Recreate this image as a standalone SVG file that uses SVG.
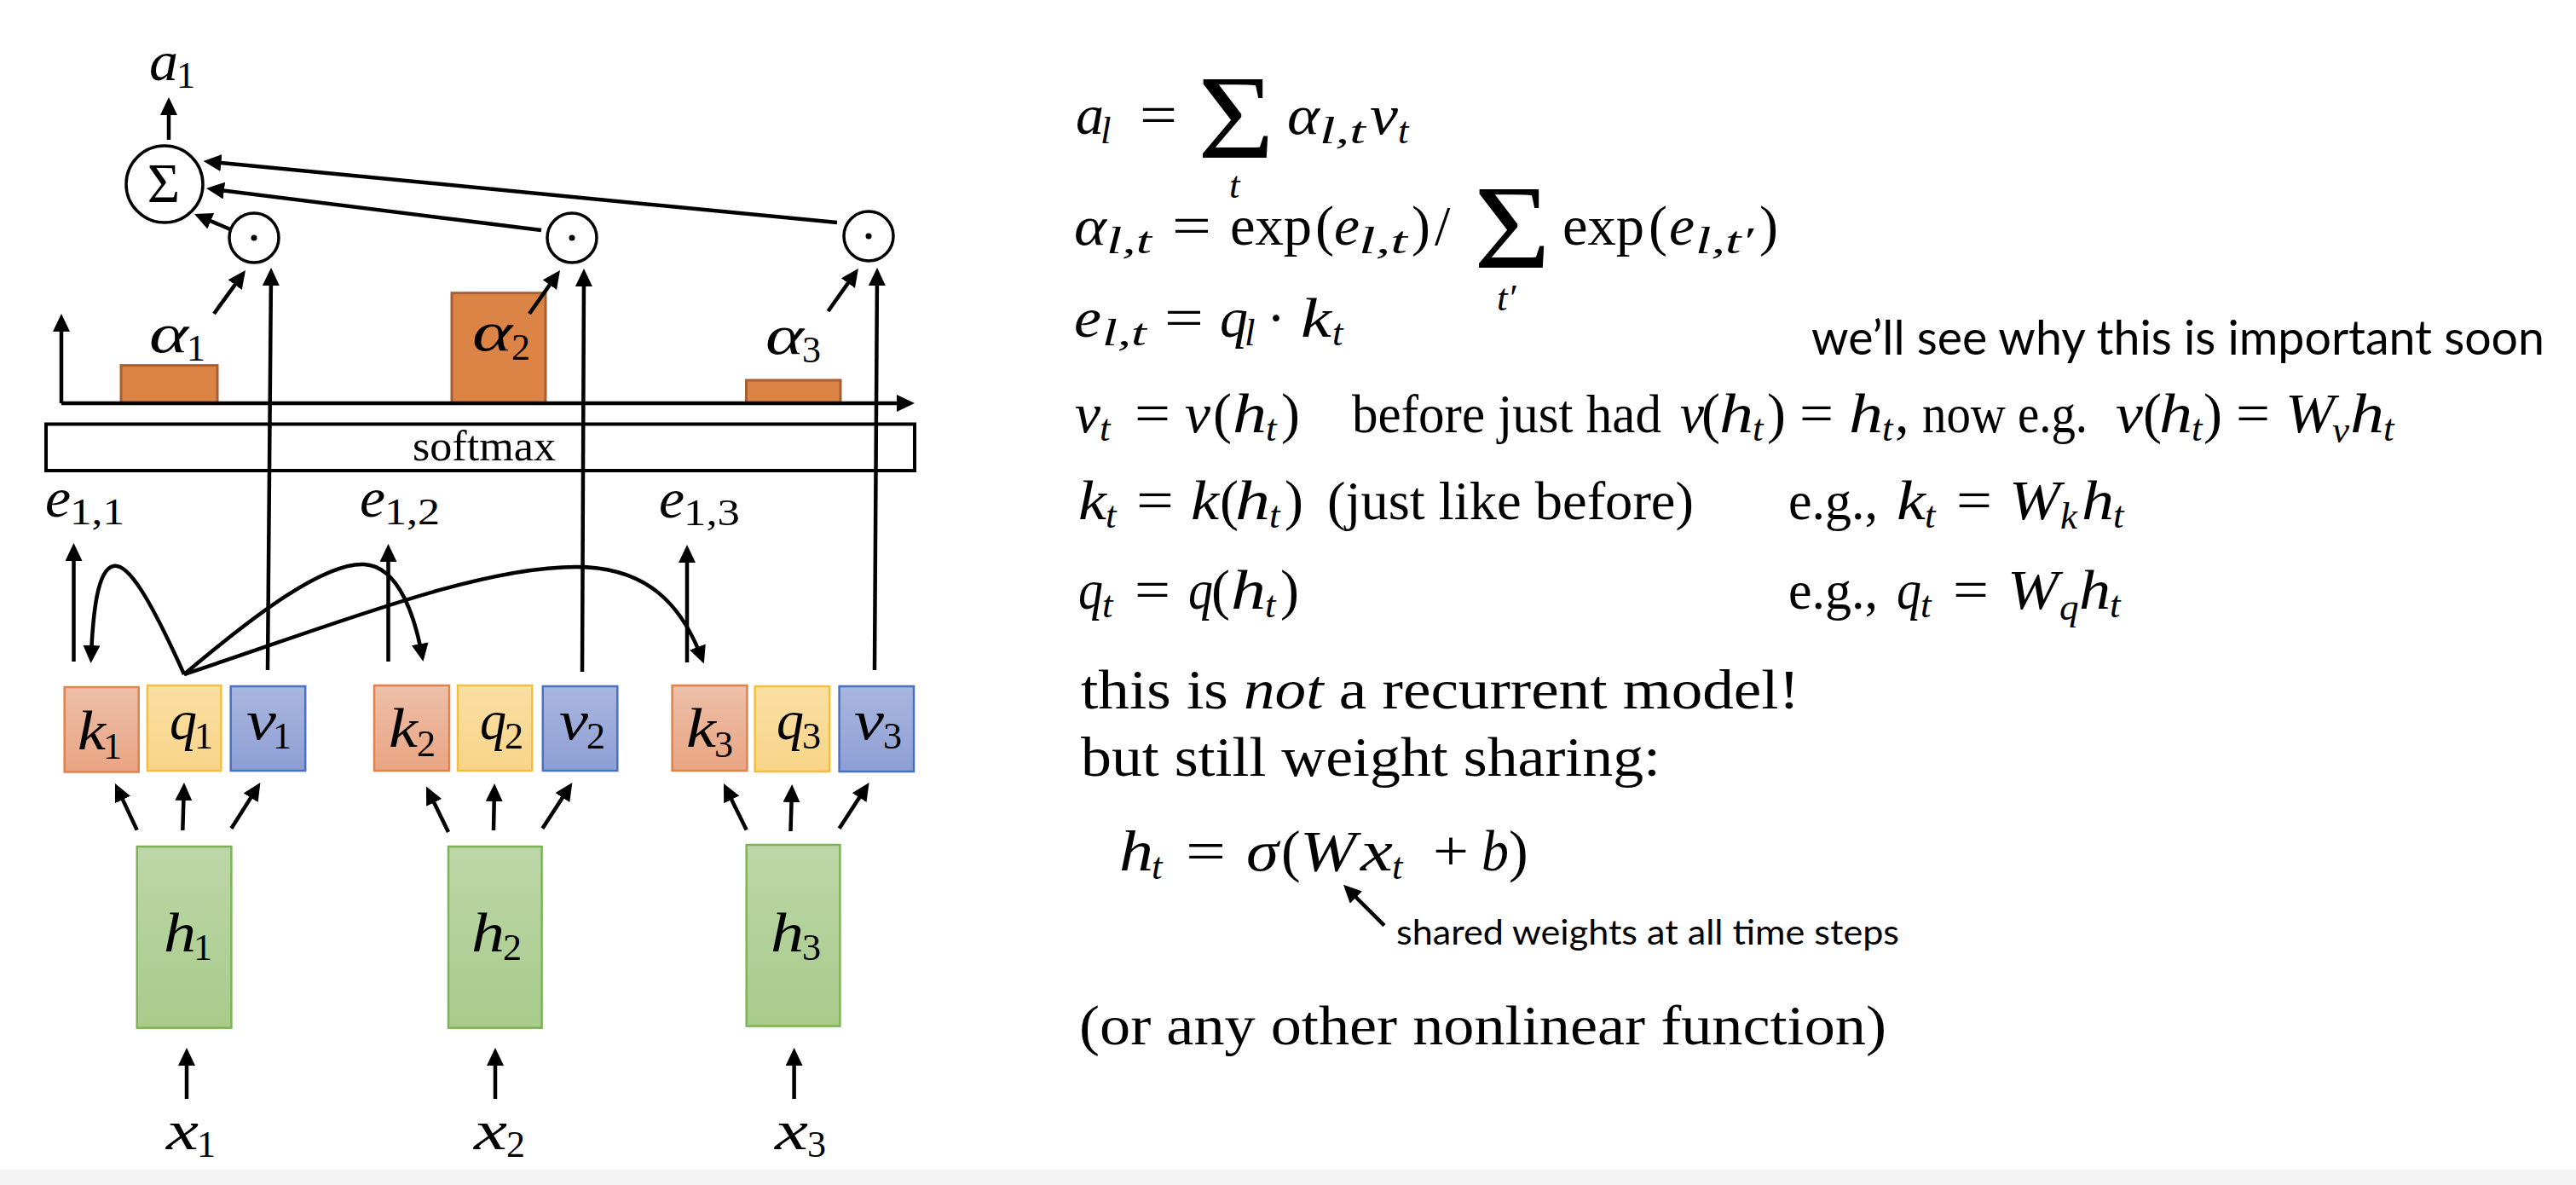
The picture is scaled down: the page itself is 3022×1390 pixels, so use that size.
<svg xmlns="http://www.w3.org/2000/svg" width="3022" height="1390" viewBox="0 0 3022 1390">
<style>
text{fill:#000}
.mm{font-family:"Liberation Serif","DejaVu Serif",serif;font-style:italic;font-size:66px}
.ms{font-family:"Liberation Serif","DejaVu Serif",serif;font-style:italic;font-size:45px}
.rm{font-family:"Liberation Serif","DejaVu Serif",serif;font-size:66px}
.rt{font-family:"Liberation Serif","DejaVu Serif",serif;font-size:64px}
.rbig{font-family:"Liberation Serif","DejaVu Serif",serif;font-size:140px}
.hm{font-family:"Liberation Serif","DejaVu Serif",serif;font-style:italic;font-size:68px}
.hr{font-family:"Liberation Serif","DejaVu Serif",serif;font-size:68px}
.lm{font-family:"Liberation Serif","DejaVu Serif",serif;font-style:italic;font-size:66px}
.ls{font-family:"Liberation Serif","DejaVu Serif",serif;font-size:44px}
.sm{font-family:"Liberation Serif","DejaVu Serif",serif;font-size:50px}
.cal{font-family:Lato,"Open Sans",sans-serif}
.ar{stroke:#000;stroke-width:4.5;fill:none;marker-end:url(#ah)}
.ring{fill:#fff;stroke:#000;stroke-width:3.5}
.bar{fill:#DC8445;stroke:#A65F33;stroke-width:3}
.kb{fill:url(#gk);stroke:#E0824A;stroke-width:2.5}
.qb{fill:url(#gq);stroke:#F3C03E;stroke-width:2.5}
.vb{fill:url(#gv);stroke:#4A70C2;stroke-width:2.5}
.hb{fill:url(#gh);stroke:#7DB356;stroke-width:2.5}
</style>
<defs>
<marker id="ah" markerUnits="userSpaceOnUse" markerWidth="24" markerHeight="22" refX="15" refY="10" orient="auto" viewBox="0 0 24 22"><path d="M0,0 L21,10 L0,20 z" fill="#000"/></marker>
<linearGradient id="gk" x1="0" y1="0" x2="0" y2="1"><stop offset="0" stop-color="#EDBFA9"/><stop offset="1" stop-color="#E9A582"/></linearGradient>
<linearGradient id="gq" x1="0" y1="0" x2="0" y2="1"><stop offset="0" stop-color="#FADFA4"/><stop offset="1" stop-color="#F7D488"/></linearGradient>
<linearGradient id="gv" x1="0" y1="0" x2="0" y2="1"><stop offset="0" stop-color="#A9B7DE"/><stop offset="1" stop-color="#8D9ED4"/></linearGradient>
<linearGradient id="gh" x1="0" y1="0" x2="0" y2="1"><stop offset="0" stop-color="#BDD7A8"/><stop offset="1" stop-color="#A8CB8B"/></linearGradient>
</defs>
<rect x="0" y="0" width="3022" height="1390" fill="#fff"/>
<rect x="0" y="1372" width="3022" height="18" fill="#F4F4F4"/>

<g id="node-a1">
<text class="lm" x="175" y="94" textLength="34" lengthAdjust="spacingAndGlyphs">a</text><text class="ls" x="207" y="103">1</text>
</g>
<g id="node-sum">
<circle class="ring" cx="193" cy="216" r="45"/>
<text class="rm" x="192" y="237" text-anchor="middle">Σ</text>
</g>
<g id="node-dot1"><circle class="ring" cx="298" cy="279" r="29"/><circle cx="298" cy="279" r="3.5"/></g>
<g id="node-dot2"><circle class="ring" cx="671" cy="279" r="29"/><circle cx="671" cy="279" r="3.5"/></g>
<g id="node-dot3"><circle class="ring" cx="1019" cy="277" r="29"/><circle cx="1019" cy="277" r="3.5"/></g>

<g id="node-chart">
<rect class="bar" x="142" y="428.6" width="113" height="44.4"/>
<rect class="bar" x="530" y="343.7" width="110" height="129.3"/>
<rect class="bar" x="875.5" y="446" width="110.5" height="27"/>
<text class="lm" x="175" y="413" font-size="62" textLength="46" lengthAdjust="spacingAndGlyphs">α</text><text class="ls" x="219" y="423">1</text>
<text class="lm" x="554" y="411" font-size="62" textLength="47" lengthAdjust="spacingAndGlyphs">α</text><text class="ls" x="600" y="422">2</text>
<text class="lm" x="898" y="415" font-size="62" textLength="45" lengthAdjust="spacingAndGlyphs">α</text><text class="ls" x="941" y="425">3</text>
</g>
<g id="node-softmax">
<rect x="54" y="497.5" width="1019" height="54.5" fill="none" stroke="#000" stroke-width="4"/>
<text class="sm" x="484" y="540" textLength="168" lengthAdjust="spacingAndGlyphs">softmax</text>
</g>
<g id="node-e11"><text class="lm" x="53" y="606" font-size="60" textLength="30" lengthAdjust="spacingAndGlyphs">e</text><text class="ls" x="82" y="615" textLength="64" lengthAdjust="spacingAndGlyphs">1,1</text></g>
<g id="node-e12"><text class="lm" x="422" y="606" font-size="60" textLength="30" lengthAdjust="spacingAndGlyphs">e</text><text class="ls" x="451" y="615" textLength="65" lengthAdjust="spacingAndGlyphs">1,2</text></g>
<g id="node-e13"><text class="lm" x="773" y="607" font-size="60" textLength="30" lengthAdjust="spacingAndGlyphs">e</text><text class="ls" x="802" y="616" textLength="66" lengthAdjust="spacingAndGlyphs">1,3</text></g>

<g id="node-k1"><rect class="kb" x="75.7" y="806" width="87" height="99.5"/><text class="lm" x="91" y="879" textLength="33" lengthAdjust="spacingAndGlyphs">k</text><text class="ls" x="121" y="890">1</text></g>
<g id="node-q1"><rect class="qb" x="172.9" y="804" width="86.4" height="100"/><text class="lm" x="199" y="867" textLength="32" lengthAdjust="spacingAndGlyphs">q</text><text class="ls" x="228" y="878">1</text></g>
<g id="node-v1"><rect class="vb" x="270.7" y="805" width="87.5" height="99"/><text class="lm" x="289" y="867" textLength="35" lengthAdjust="spacingAndGlyphs">v</text><text class="ls" x="320" y="878">1</text></g>
<g id="node-k2"><rect class="kb" x="439" y="804" width="88" height="100"/><text class="lm" x="456" y="876" textLength="34" lengthAdjust="spacingAndGlyphs">k</text><text class="ls" x="489" y="887">2</text></g>
<g id="node-q2"><rect class="qb" x="537" y="804" width="87.3" height="100"/><text class="lm" x="563" y="867" textLength="31" lengthAdjust="spacingAndGlyphs">q</text><text class="ls" x="592" y="878">2</text></g>
<g id="node-v2"><rect class="vb" x="636.8" y="805" width="87.5" height="99"/><text class="lm" x="656" y="867" textLength="34" lengthAdjust="spacingAndGlyphs">v</text><text class="ls" x="688" y="878">2</text></g>
<g id="node-k3"><rect class="kb" x="788.6" y="804" width="87.8" height="100"/><text class="lm" x="805" y="876" textLength="35" lengthAdjust="spacingAndGlyphs">k</text><text class="ls" x="838" y="888">3</text></g>
<g id="node-q3"><rect class="qb" x="885.7" y="805" width="87.5" height="100"/><text class="lm" x="911" y="867" textLength="32" lengthAdjust="spacingAndGlyphs">q</text><text class="ls" x="941" y="878">3</text></g>
<g id="node-v3"><rect class="vb" x="984.6" y="805" width="87.4" height="100"/><text class="lm" x="1002" y="867" textLength="35" lengthAdjust="spacingAndGlyphs">v</text><text class="ls" x="1036" y="878">3</text></g>

<g id="node-h1"><rect class="hb" x="160.7" y="993" width="110.7" height="212.7"/><text class="lm" x="192" y="1116" textLength="38" lengthAdjust="spacingAndGlyphs">h</text><text class="ls" x="227" y="1126">1</text></g>
<g id="node-h2"><rect class="hb" x="526" y="993" width="109.6" height="212.7"/><text class="lm" x="553" y="1116" textLength="39" lengthAdjust="spacingAndGlyphs">h</text><text class="ls" x="590" y="1126">2</text></g>
<g id="node-h3"><rect class="hb" x="875.7" y="991" width="109.7" height="212.6"/><text class="lm" x="904" y="1116" textLength="39" lengthAdjust="spacingAndGlyphs">h</text><text class="ls" x="941" y="1126">3</text></g>

<g id="node-x1"><text class="lm" x="195" y="1348" textLength="38" lengthAdjust="spacingAndGlyphs">x</text><text class="ls" x="231" y="1357">1</text></g>
<g id="node-x2"><text class="lm" x="556" y="1348" textLength="39" lengthAdjust="spacingAndGlyphs">x</text><text class="ls" x="594" y="1357">2</text></g>
<g id="node-x3"><text class="lm" x="909" y="1348" textLength="39" lengthAdjust="spacingAndGlyphs">x</text><text class="ls" x="947" y="1357">3</text></g>

<g id="connectors">
<path class="ar" d="M198,164 L198,120"/>
<path class="ar" d="M270,269 L233.5,253.4"/>
<path class="ar" d="M635,270 L248,221.7"/>
<path class="ar" d="M982,261 L244.5,189.6"/>
<path class="ar" d="M251,368 L284.5,321.9"/>
<path class="ar" d="M621,368 L653.5,321.9"/>
<path class="ar" d="M971.5,365 L1003.5,319.9"/>
<path class="ar" d="M72,473 L72,374"/>
<path class="ar" d="M72,473 L1067,473"/>
<path class="ar" d="M314,786 L318,320"/>
<path class="ar" d="M683,788 L685,321"/>
<path class="ar" d="M1026,786 L1029,320"/>
<path class="ar" d="M86.5,776 L86.5,643"/>
<path class="ar" d="M455.5,776 L455.5,644"/>
<path class="ar" d="M806,777 L806,645"/>
<path class="ar" d="M216,791 C175,700 150,660 133,664 C114,668 109,720 106.8,772"/>
<path class="ar" d="M216,791 C300,720 380,660 427,662 C470,664 488,730 495.4,770"/>
<path class="ar" d="M216,791 C400,730 560,665 676,665 C760,665 800,710 823.7,773"/>
<path class="ar" d="M160.7,973.6 L137.6,924.4"/>
<path class="ar" d="M214.3,974 L215.8,924"/>
<path class="ar" d="M271.4,971.8 L302.2,923.1"/>
<path class="ar" d="M526,976 L502.6,927.9"/>
<path class="ar" d="M579,974 L580,925"/>
<path class="ar" d="M636.4,971.8 L668.1,923"/>
<path class="ar" d="M875.7,973.6 L851.6,924.4"/>
<path class="ar" d="M927.5,975 L929,926"/>
<path class="ar" d="M984.6,971.8 L1016.3,923"/>
<path class="ar" d="M219,1289 L219,1235"/>
<path class="ar" d="M581,1289 L581,1235"/>
<path class="ar" d="M931.6,1289 L931.6,1235"/>
<path class="ar" d="M1624,1085.7 L1580.2,1042"/>
</g>

<g id="eq1">
<text class="mm" x="1262" y="157">a</text><text class="ms" x="1291" y="168">l</text>
<text class="rm" x="1337" y="157" textLength="44" lengthAdjust="spacingAndGlyphs">=</text>
<text class="rbig" x="1405" y="185" textLength="90" lengthAdjust="spacingAndGlyphs">Σ</text>
<text class="ms" x="1442" y="232">t</text>
<text class="mm" x="1510" y="157" textLength="38" lengthAdjust="spacingAndGlyphs">α</text><text class="ms" x="1548" y="168" textLength="54" lengthAdjust="spacingAndGlyphs">l,t</text>
<text class="mm" x="1607" y="157" textLength="33" lengthAdjust="spacingAndGlyphs">v</text><text class="ms" x="1640" y="168">t</text>
</g>
<g id="eq2">
<text class="mm" x="1260" y="287" textLength="38" lengthAdjust="spacingAndGlyphs">α</text><text class="ms" x="1298" y="297" textLength="53" lengthAdjust="spacingAndGlyphs">l,t</text>
<text class="rm" x="1375" y="287" textLength="46" lengthAdjust="spacingAndGlyphs">=</text>
<text class="rm" x="1443" y="287" textLength="96" lengthAdjust="spacingAndGlyphs">exp</text>
<text class="rm" x="1543" y="287">(</text>
<text class="mm" x="1565" y="287" textLength="30" lengthAdjust="spacingAndGlyphs">e</text><text class="ms" x="1594" y="297" textLength="57" lengthAdjust="spacingAndGlyphs">l,t</text>
<text class="rm" x="1656" y="287">)</text>
<text class="rm" x="1683" y="287">/</text>
<text class="rbig" x="1729" y="314" textLength="90" lengthAdjust="spacingAndGlyphs">Σ</text>
<text class="ms" x="1756" y="364">t′</text>
<text class="rm" x="1833" y="287" textLength="96" lengthAdjust="spacingAndGlyphs">exp</text>
<text class="rm" x="1934" y="287">(</text>
<text class="mm" x="1958" y="287" textLength="30" lengthAdjust="spacingAndGlyphs">e</text><text class="ms" x="1989" y="297" textLength="68" lengthAdjust="spacingAndGlyphs">l,t′</text>
<text class="rm" x="2064" y="287">)</text>
</g>
<g id="eq3">
<text class="mm" x="1260" y="395" textLength="32" lengthAdjust="spacingAndGlyphs">e</text><text class="ms" x="1293" y="405" textLength="52" lengthAdjust="spacingAndGlyphs">l,t</text>
<text class="rm" x="1366" y="395" textLength="46" lengthAdjust="spacingAndGlyphs">=</text>
<text class="mm" x="1431" y="395">q</text><text class="ms" x="1460" y="405">l</text>
<text class="rm" x="1486" y="395">·</text>
<text class="mm" x="1526" y="395" textLength="36" lengthAdjust="spacingAndGlyphs">k</text><text class="ms" x="1563" y="405">t</text>
</g>
<g id="eq4">
<text class="mm" x="1261" y="507" textLength="30" lengthAdjust="spacingAndGlyphs">v</text><text class="ms" x="1290" y="517">t</text>
<text class="rm" x="1331" y="507" textLength="42" lengthAdjust="spacingAndGlyphs">=</text>
<text class="mm" x="1390" y="507" textLength="30" lengthAdjust="spacingAndGlyphs">v</text><text class="rm" x="1423" y="507">(</text><text class="mm" x="1446" y="507" textLength="40" lengthAdjust="spacingAndGlyphs">h</text><text class="ms" x="1485" y="517">t</text><text class="rm" x="1503" y="507">)</text>
<text class="rt" x="1586" y="507" textLength="363" lengthAdjust="spacingAndGlyphs">before just had</text>
<text class="mm" x="1971" y="507" textLength="28" lengthAdjust="spacingAndGlyphs">v</text><text class="rm" x="1996" y="507">(</text><text class="mm" x="2017" y="507" textLength="40" lengthAdjust="spacingAndGlyphs">h</text><text class="ms" x="2056" y="517">t</text><text class="rm" x="2073" y="507">)</text>
<text class="rm" x="2111" y="507" textLength="40" lengthAdjust="spacingAndGlyphs">=</text>
<text class="mm" x="2169" y="507" textLength="40" lengthAdjust="spacingAndGlyphs">h</text><text class="ms" x="2208" y="517">t</text><text class="rm" x="2223" y="507">,</text>
<text class="rt" x="2255" y="507" textLength="194" lengthAdjust="spacingAndGlyphs">now e.g.</text>
<text class="mm" x="2482" y="507" textLength="32" lengthAdjust="spacingAndGlyphs">v</text><text class="rm" x="2514" y="507">(</text><text class="mm" x="2533" y="507" textLength="39" lengthAdjust="spacingAndGlyphs">h</text><text class="ms" x="2571" y="517">t</text><text class="rm" x="2585" y="507">)</text>
<text class="rm" x="2623" y="507" textLength="40" lengthAdjust="spacingAndGlyphs">=</text>
<text class="mm" x="2681" y="507" textLength="58" lengthAdjust="spacingAndGlyphs">W</text><text class="ms" x="2736" y="519">v</text>
<text class="mm" x="2757" y="507" textLength="40" lengthAdjust="spacingAndGlyphs">h</text><text class="ms" x="2796" y="517">t</text>
</g>
<g id="eq5">
<text class="mm" x="1265" y="609" textLength="33" lengthAdjust="spacingAndGlyphs">k</text><text class="ms" x="1297" y="619">t</text>
<text class="rm" x="1333" y="609" textLength="44" lengthAdjust="spacingAndGlyphs">=</text>
<text class="mm" x="1397" y="609" textLength="33" lengthAdjust="spacingAndGlyphs">k</text><text class="rm" x="1431" y="609">(</text><text class="mm" x="1449" y="609" textLength="41" lengthAdjust="spacingAndGlyphs">h</text><text class="ms" x="1489" y="619">t</text><text class="rm" x="1507" y="609">)</text>
<text class="rt" x="1557" y="609" textLength="430" lengthAdjust="spacingAndGlyphs">(just like before)</text>
<text class="rt" x="2098" y="609" textLength="105" lengthAdjust="spacingAndGlyphs">e.g.,</text>
<text class="mm" x="2225" y="609" textLength="34" lengthAdjust="spacingAndGlyphs">k</text><text class="ms" x="2258" y="619">t</text>
<text class="rm" x="2295" y="609" textLength="42" lengthAdjust="spacingAndGlyphs">=</text>
<text class="mm" x="2357" y="609" textLength="60" lengthAdjust="spacingAndGlyphs">W</text><text class="ms" x="2417" y="620">k</text>
<text class="mm" x="2442" y="609" textLength="38" lengthAdjust="spacingAndGlyphs">h</text><text class="ms" x="2479" y="619">t</text>
</g>
<g id="eq6">
<text class="mm" x="1265" y="714" textLength="29" lengthAdjust="spacingAndGlyphs">q</text><text class="ms" x="1293" y="724">t</text>
<text class="rm" x="1331" y="714" textLength="42" lengthAdjust="spacingAndGlyphs">=</text>
<text class="mm" x="1394" y="714" textLength="29" lengthAdjust="spacingAndGlyphs">q</text><text class="rm" x="1421" y="714">(</text><text class="mm" x="1444" y="714" textLength="41" lengthAdjust="spacingAndGlyphs">h</text><text class="ms" x="1484" y="724">t</text><text class="rm" x="1502" y="714">)</text>
<text class="rt" x="2098" y="714" textLength="105" lengthAdjust="spacingAndGlyphs">e.g.,</text>
<text class="mm" x="2225" y="714" textLength="29" lengthAdjust="spacingAndGlyphs">q</text><text class="ms" x="2253" y="724">t</text>
<text class="rm" x="2291" y="714" textLength="42" lengthAdjust="spacingAndGlyphs">=</text>
<text class="mm" x="2355" y="714" textLength="60" lengthAdjust="spacingAndGlyphs">W</text><text class="ms" x="2416" y="727">q</text>
<text class="mm" x="2439" y="714" textLength="37" lengthAdjust="spacingAndGlyphs">h</text><text class="ms" x="2475" y="724">t</text>
</g>
<g id="note-important">
<text class="cal" x="2125" y="416" font-size="56" textLength="860" lengthAdjust="spacingAndGlyphs">we’ll see why this is important soon</text>
</g>
<g id="text-notrecurrent">
<text class="rm" x="1268" y="831" textLength="843" lengthAdjust="spacingAndGlyphs">this is <tspan font-style="italic">not</tspan> a recurrent model!</text>
<text class="rm" x="1268" y="910" textLength="680" lengthAdjust="spacingAndGlyphs">but still weight sharing:</text>
</g>
<g id="eq-h">
<text class="hm" x="1313" y="1021" textLength="40" lengthAdjust="spacingAndGlyphs">h</text><text class="ms" x="1351" y="1031">t</text>
<text class="hr" x="1391" y="1021" textLength="47" lengthAdjust="spacingAndGlyphs">=</text>
<text class="hm" x="1462" y="1021" textLength="38" lengthAdjust="spacingAndGlyphs">σ</text>
<text class="hr" x="1503" y="1021">(</text>
<text class="hm" x="1525" y="1021" textLength="66" lengthAdjust="spacingAndGlyphs">W</text>
<text class="hm" x="1596" y="1021" textLength="38" lengthAdjust="spacingAndGlyphs">x</text><text class="ms" x="1633" y="1031">t</text>
<text class="hr" x="1681" y="1021" textLength="42" lengthAdjust="spacingAndGlyphs">+</text>
<text class="hm" x="1738" y="1021" textLength="32" lengthAdjust="spacingAndGlyphs">b</text>
<text class="hr" x="1770" y="1021">)</text>
</g>
<g id="note-shared">
<text class="cal" x="1638" y="1108" font-size="40" textLength="590" lengthAdjust="spacingAndGlyphs">shared weights at all time steps</text>
</g>
<g id="text-nonlinear">
<text class="rm" x="1266" y="1225" textLength="947" lengthAdjust="spacingAndGlyphs">(or any other nonlinear function)</text>
</g>
</svg>
